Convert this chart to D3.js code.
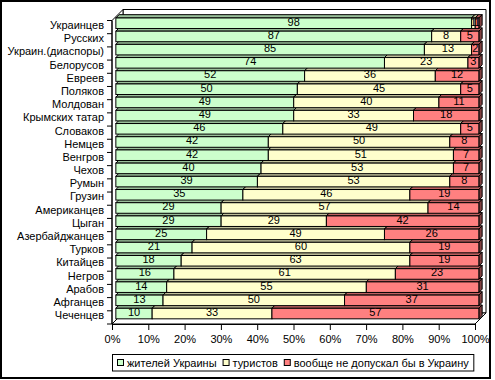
<!DOCTYPE html>
<html>
<head>
<meta charset="utf-8">
<script src="https://cdn.jsdelivr.net/npm/d3@7"></script>
<style>
  body { margin: 0; background: #fff; }
  svg text { font-family: "Liberation Sans", Arial, sans-serif; font-size: 11px; fill: #000; }
</style>
</head>
<body>
<div id="chart"></div>
<script>
const categories = ["Украинцев", "Русских", "Украин.(диаспоры)", "Белорусов", "Евреев", "Поляков",
  "Молдован", "Крымских татар", "Словаков", "Немцев", "Венгров", "Чехов", "Румын", "Грузин",
  "Американцев", "Цыган", "Азербайджанцев", "Турков", "Китайцев", "Негров", "Арабов", "Афганцев", "Чеченцев"];
const residents = [98, 87, 85, 74, 52, 50, 49, 49, 46, 42, 42, 40, 39, 35, 29, 29, 25, 21, 18, 16, 14, 13, 10];
const tourists  = [1, 8, 13, 23, 36, 45, 40, 33, 49, 50, 51, 53, 53, 46, 57, 29, 49, 60, 63, 61, 55, 50, 33];
const banned    = [1, 5, 2, 3, 12, 5, 11, 18, 5, 8, 7, 7, 8, 19, 14, 42, 26, 19, 19, 23, 31, 37, 57];
const seriesNames = ["жителей Украины", "туристов", "вообще не допускал бы в Украину"];
const xTicks = [0, 10, 20, 30, 40, 50, 60, 70, 80, 90, 100];

const colors = {
  front: ["#CCFFCC", "#FFFFCC", "#FF8080"],
  top:   ["#99BF99", "#BFBF99", "#BF6060"],
  side:  ["#668066", "#808066", "#804040"]
};

const W = 495, H = 380;
const plane = { left: 112, right: 475, top: 20.5, bottom: 324 };
const depth = { dx: 11, dy: -11 };
const fFront = 0.35, fBack = 0.65;

const svg = d3.select("#chart").append("svg")
  .attr("width", W).attr("height", H);

// outer frame
svg.append("rect")
  .attr("x", 1).attr("y", 1).attr("width", 489).attr("height", 377)
  .attr("fill", "#fff").attr("stroke", "#000").attr("stroke-width", 2);

const x = d3.scaleLinear().domain([0, 100]).range([plane.left, plane.right]);
const y = d3.scaleBand().domain(categories)
  .range([plane.top, plane.bottom])
  .paddingInner(0.2).paddingOuter(0.1);

const rows = categories.map((c, i) => ({ cat: c, r: residents[i], t: tourists[i], b: banned[i] }));
const stacked = d3.stack().keys(["r", "t", "b"])(rows);

// walls and floor
const bx = depth.dx, by = depth.dy;
const walls = svg.append("g").attr("fill", "#fff").attr("stroke", "#000").attr("stroke-width", 1);
walls.append("polygon").attr("points", [
  [x(0) + bx, plane.top + by], [x(100) + bx, plane.top + by],
  [x(100) + bx, plane.bottom + by], [x(0) + bx, plane.bottom + by]].join(" "));
walls.append("polygon").attr("points", [
  [x(0), plane.top], [x(0) + bx, plane.top + by],
  [x(0) + bx, plane.bottom + by], [x(0), plane.bottom]].join(" "));
walls.append("polygon").attr("points", [
  [x(0), plane.bottom], [x(100), plane.bottom],
  [x(100) + bx, plane.bottom + by], [x(0) + bx, plane.bottom + by]].join(" "));

// bars, drawn bottom row first so upper rows cover lower top faces
const fx = depth.dx * fFront, fy = depth.dy * fFront;
const kx = depth.dx * fBack, ky = depth.dy * fBack;
const bw = y.bandwidth();
const barG = svg.append("g").attr("stroke", "#000").attr("stroke-width", 1).attr("stroke-linejoin", "miter");

for (let i = categories.length - 1; i >= 0; i--) {
  const y0 = y(categories[i]), y1 = y0 + bw;
  stacked.forEach((s, k) => {
    const x0 = x(s[i][0]), x1 = x(s[i][1]);
    barG.append("polygon")
      .attr("fill", colors.top[k])
      .attr("points", [[x0 + fx, y0 + fy], [x1 + fx, y0 + fy], [x1 + kx, y0 + ky], [x0 + kx, y0 + ky]].join(" "));
    barG.append("polygon")
      .attr("fill", colors.side[k])
      .attr("points", [[x1 + fx, y0 + fy], [x1 + kx, y0 + ky], [x1 + kx, y1 + ky], [x1 + fx, y1 + fy]].join(" "));
    barG.append("rect")
      .attr("fill", colors.front[k])
      .attr("x", x0 + fx).attr("y", y0 + fy)
      .attr("width", x1 - x0).attr("height", bw);
  });
}

// value labels
const labelG = svg.append("g").attr("text-anchor", "middle");
stacked.forEach((s, k) => {
  labelG.selectAll(null).data(s).enter().append("text")
    .attr("x", d => (x(d[0]) + x(d[1])) / 2 + fx)
    .attr("y", d => y(d.data.cat) + bw / 2 + fy - 1.5)
    .attr("dy", "0.35em")
    .text(d => d[1] - d[0]);
});

// category axis
const step = y.step();
const yAxis = svg.append("g");
yAxis.append("line")
  .attr("x1", plane.left).attr("x2", plane.left)
  .attr("y1", plane.top).attr("y2", plane.bottom)
  .attr("stroke", "#000");
yAxis.selectAll(".tk").data(d3.range(categories.length + 1)).enter().append("line")
  .attr("x1", plane.left - 5).attr("x2", plane.left)
  .attr("y1", i => plane.top + i * step).attr("y2", i => plane.top + i * step)
  .attr("stroke", "#000");
yAxis.selectAll(".lbl").data(categories).enter().append("text")
  .attr("x", 104)
  .attr("y", d => y(d) + bw / 2 - 2)
  .attr("dy", "0.35em")
  .attr("text-anchor", "end")
  .text(d => d);

// value axis
const xAxis = svg.append("g")
  .attr("transform", `translate(0,${plane.bottom})`)
  .call(d3.axisBottom(x).tickValues(xTicks).tickSize(6).tickSizeOuter(0).tickPadding(5)
    .tickFormat(d => d + "%"));
xAxis.select(".domain").attr("stroke", "#000");
xAxis.selectAll(".tick line").attr("stroke", "#000");
xAxis.selectAll("text").attr("font-family", null).attr("font-size", null);

// legend
const legend = svg.append("g");
const legBox = legend.append("rect")
  .attr("x", 112.5).attr("y", 354.5).attr("height", 16.5)
  .attr("fill", "#fff").attr("stroke", "#000");
let lx = 117;
seriesNames.forEach((name, k) => {
  legend.append("rect")
    .attr("x", lx + 0.5).attr("y", 359.5).attr("width", 6).attr("height", 6)
    .attr("fill", colors.front[k]).attr("stroke", "#000");
  const t = legend.append("text")
    .attr("x", lx + 10).attr("y", 366.5)
    .text(name);
  lx += 10 + t.node().getComputedTextLength() + 6;
});
legBox.attr("width", lx - 112.5 - 1);
</script>
</body>
</html>
